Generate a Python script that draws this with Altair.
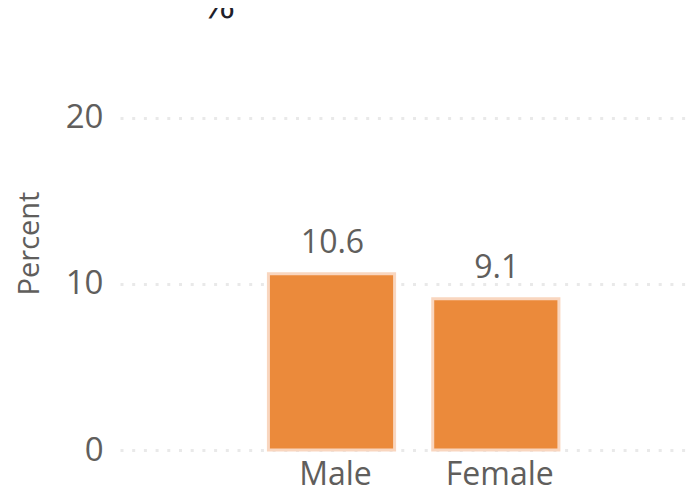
import altair as alt
import pandas as pd

categories = ["Male", "Female"]
values = [10.6, 9.1]
value_labels = ["10.6", "9.1"]
y_ticks = [0, 10, 20]
y_title = "Percent"
stray_text = ["%"]

FONT = "Open Sans"
TEXT = "#605E5C"

df = pd.DataFrame({"gender": categories, "pct": values, "label": value_labels})

x_scale = alt.Scale(domain=categories, paddingInner=0.232, paddingOuter=0.8505, align=0.531, round=False)
y_scale = alt.Scale(domain=[0, 26.6], nice=False)

x = alt.X("gender:N", scale=x_scale, sort=categories, title=None,
          axis=alt.Axis(labelAngle=0, labelFont=FONT, labelFontSize=32, labelColor=TEXT,
                        labelPadding=9, labelOffset=4, ticks=False, domain=False, grid=False))
y = alt.Y("pct:Q", scale=y_scale, title=y_title,
          axis=alt.Axis(values=y_ticks, format="d", labelFont=FONT, labelFontSize=33, labelColor=TEXT,
                        labelPadding=17, ticks=False, domain=False, grid=True, gridColor="#E9E9E9",
                        gridDash=[3, 8.7], gridWidth=3, titleFont=FONT, titleFontSize=29,
                        titleFontWeight="normal", titleColor=TEXT, titleX=-76, titleY=235,
                        titleAngle=270))

bars = alt.Chart(df).mark_bar(color="#EB8A3B", stroke="#F9D6BF", strokeWidth=3).encode(x=x, y=y)
labels = alt.Chart(df).mark_text(font=FONT, fontSize=32, color=TEXT, baseline="bottom", dy=-14, dx=1).encode(
    x=alt.X("gender:N", scale=x_scale, sort=categories),
    y=alt.Y("pct:Q", scale=y_scale),
    text="label:N",
)
stray = alt.Chart(pd.DataFrame({"t": stray_text})).mark_text(
    font="DejaVu Sans", fontSize=36, color="#1F1F2B", align="center", baseline="alphabetic"
).encode(x=alt.value(98), y=alt.value(10), text="t:N")

chart = (bars + labels + stray).properties(
    width=570, height=442,
    padding={"left": 112, "top": 0, "right": 0, "bottom": 39},
    autosize=alt.AutoSizeParams(type="none"),
).configure_view(stroke=None)

chart.save("out.html", embed_options={"renderer": "svg", "actions": False})
